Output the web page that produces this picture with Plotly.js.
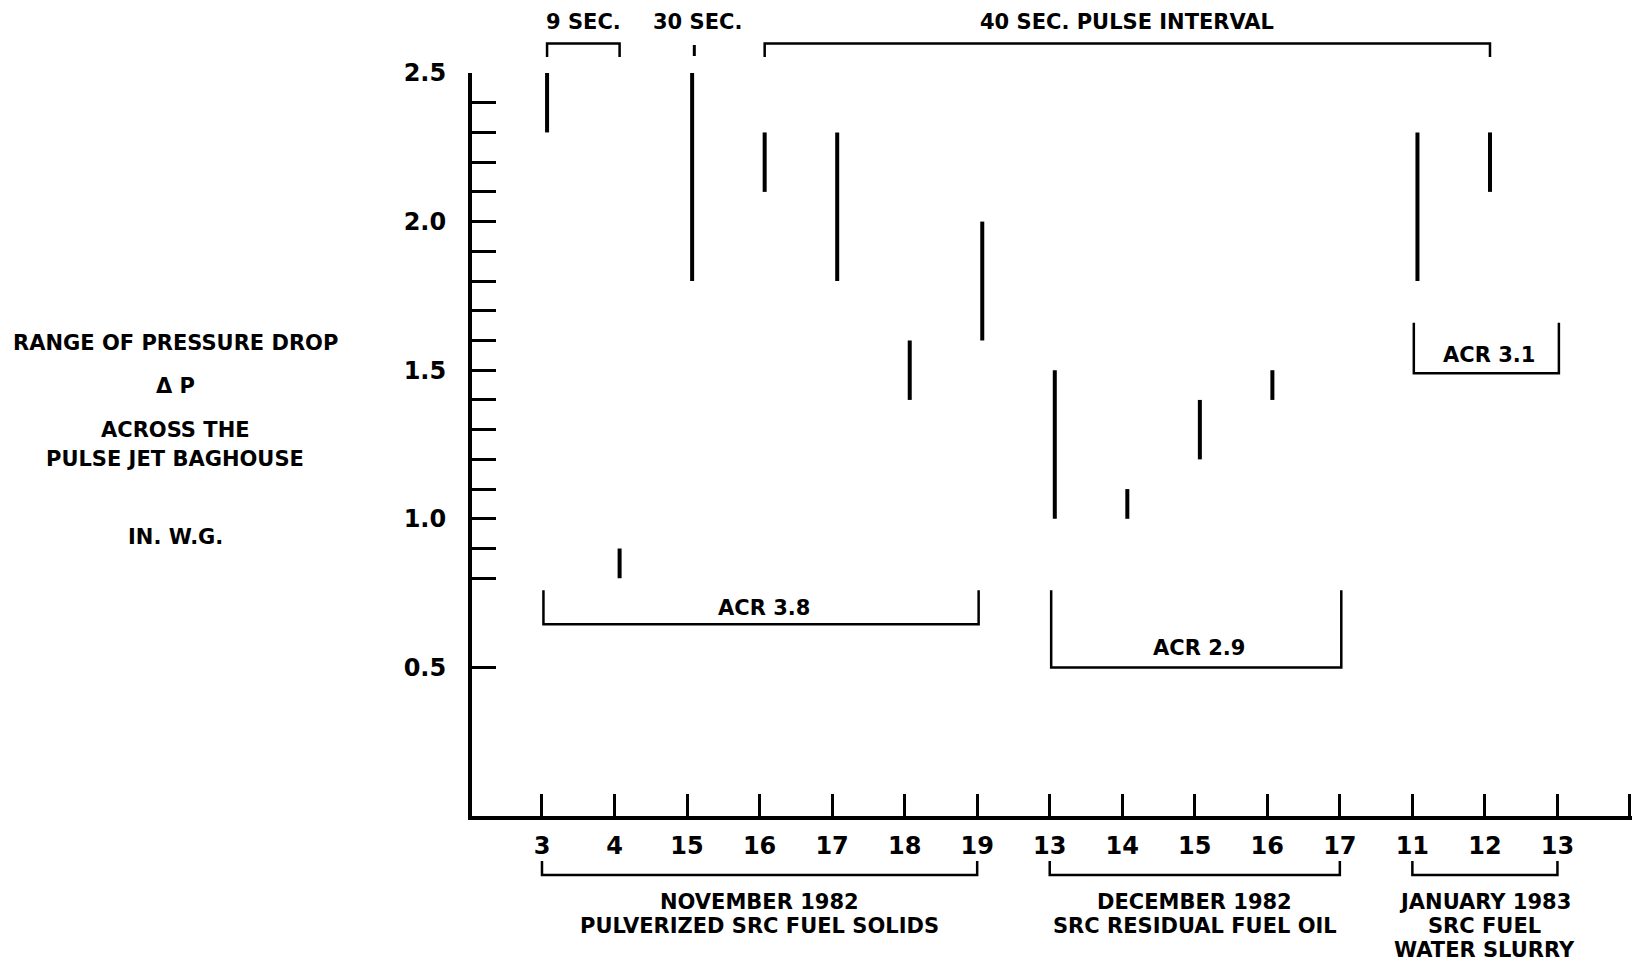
<!DOCTYPE html>
<html>
<head>
<meta charset="utf-8">
<script src="https://cdn.plot.ly/plotly-3.0.1.min.js"></script>
<style>
html, body { margin: 0; padding: 0; background: #ffffff; }
#chart { width: 1633px; height: 964px; }
</style>
</head>
<body>
<div id="chart"></div>
<script>
// ---------------- DATA ----------------
// Test days along the x axis (category positions 1..15)
const dayLabels = ['3', '4', '15', '16', '17', '18', '19', '13', '14', '15', '16', '17', '11', '12', '13'];
// Range of pressure drop (in. W.G.) observed on each day: low / high ends of each bar
const dpLow  = [2.3, 0.8, 1.8, 2.1, 1.8, 1.4, 1.6, 1.0, 1.0, 1.2, 1.4, null, 1.8, 2.1, null];
const dpHigh = [2.5, 0.9, 2.5, 2.3, 2.3, 1.6, 2.0, 1.5, 1.1, 1.4, 1.5, null, 2.3, 2.3, null];

// Y axis ticks
const yTickVals = [0.5, 0.8, 0.9, 1.0, 1.1, 1.2, 1.3, 1.4, 1.5, 1.6, 1.7, 1.8, 1.9, 2.0, 2.1, 2.2, 2.3, 2.4, 2.5];
const yTickLabels = ['0.5', '', '', '1.0', '', '', '', '', '1.5', '', '', '', '', '2.0', '', '', '', '', '2.5'];

// Pulse interval groups (top brackets), by day position
const pulseLabels = ['9 SEC.', '30 SEC.', '40 SEC. PULSE INTERVAL'];
const pulseStart  = [1, 3, 4];
const pulseEnd    = [2, 3, 14];

// Air-to-cloth ratio groups (brackets inside the plot)
const acrLabels = ['ACR 3.8', 'ACR 2.9', 'ACR 3.1'];
const acrStart  = [1, 8, 13];
const acrEnd    = [7, 12, 15];

// Test periods (brackets under the day labels)
const periodLines = [
  ['NOVEMBER 1982', 'PULVERIZED SRC FUEL SOLIDS'],
  ['DECEMBER 1982', 'SRC RESIDUAL FUEL OIL'],
  ['JANUARY 1983', 'SRC FUEL', 'WATER SLURRY']
];
const periodStart = [1, 8, 13];
const periodEnd   = [7, 12, 15];

// Y axis title lines
const yTitleLines = ['RANGE OF PRESSURE DROP', '\u0394 P', 'ACROSS THE', 'PULSE JET BAGHOUSE', 'IN. W.G.'];

// ---------------- LAYOUT / STYLE ----------------
const W = 1633, H = 964;
const M = { l: 472, r: 1, t: 73, b: 148 };
const plotBottom = H - M.b;
const plotH = H - M.t - M.b;
const plotW = W - M.l - M.r;
const py = px => (plotBottom - px) / plotH;       // pixel row -> paper y
const pxX = px => (px - M.l) / plotW;             // pixel column -> paper x
const SHIFT = 0.07;                               // bars sit slightly right of the ticks in the original
const FONT = 'DejaVu Sans, Liberation Sans, Arial, sans-serif';
const INK = '#000000';
const TXT = { family: FONT, size: 21, color: INK, weight: 'bold' };
const TICKFONT = { family: FONT, size: 24, color: INK, weight: 'bold' };

// ACR bracket geometry (y in data units)
const acrTop    = [0.76, 0.76, 1.66];
const acrBottom = [0.645, 0.50, 1.49];
const acrTextY  = [0.70, 0.565, 1.55];

// bars trace
const bx = [], by = [];
dayLabels.forEach((d, i) => {
  if (dpLow[i] == null) return;
  bx.push(i + 1 + SHIFT, i + 1 + SHIFT, null);
  by.push(dpLow[i], dpHigh[i], null);
});

const traces = [{
  type: 'scatter', mode: 'lines', x: bx, y: by,
  line: { color: INK, width: 4 }, hoverinfo: 'skip', showlegend: false
}];

const shapes = [];
const annotations = [];

// top pulse brackets
pulseLabels.forEach((t, i) => {
  const x1 = pulseStart[i] + SHIFT, x2 = pulseEnd[i] + SHIFT;
  if (x1 === x2) {
    shapes.push({ type: 'line', xref: 'x', yref: 'paper', x0: x1 + 0.03, x1: x1 + 0.03, y0: py(45), y1: py(56),
                  line: { color: INK, width: 3 } });
  } else {
    shapes.push({ type: 'path', xref: 'x', yref: 'paper',
      path: `M ${x1},${py(57)} L ${x1},${py(43.5)} L ${x2},${py(43.5)} L ${x2},${py(57)}`,
      line: { color: INK, width: 2.5 } });
  }
  annotations.push({ text: t, xref: 'x', yref: 'paper', x: (x1 + x2) / 2 + (x1 === x2 ? 0.07 : 0), y: py(22),
    xanchor: 'center', yanchor: 'middle', showarrow: false, font: TXT });
});

// ACR brackets
acrLabels.forEach((t, i) => {
  const x1 = acrStart[i] + 0.02, x2 = acrEnd[i] + 0.02;
  shapes.push({ type: 'path', xref: 'x', yref: 'y',
    path: `M ${x1},${acrTop[i]} L ${x1},${acrBottom[i]} L ${x2},${acrBottom[i]} L ${x2},${acrTop[i]}`,
    line: { color: INK, width: 2.5 } });
  annotations.push({ text: t, xref: 'x', yref: 'y', x: (x1 + x2) / 2 + 0.04, y: acrTextY[i],
    xanchor: 'center', yanchor: 'middle', showarrow: false, font: TXT });
});

// period brackets below the axis
const periodLineY = [902, 926, 950];
periodLines.forEach((lines, i) => {
  const x1 = periodStart[i], x2 = periodEnd[i];
  shapes.push({ type: 'path', xref: 'x', yref: 'paper',
    path: `M ${x1},${py(861)} L ${x1},${py(875)} L ${x2},${py(875)} L ${x2},${py(861)}`,
    line: { color: INK, width: 2.5 } });
  lines.forEach((t, k) => {
    annotations.push({ text: t, xref: 'x', yref: 'paper', x: (x1 + x2) / 2, y: py(periodLineY[k]),
      xanchor: 'center', yanchor: 'middle', showarrow: false, font: TXT });
  });
});

// y axis title (stacked lines)
const yTitleRows = [343, 386, 430, 459, 537];
yTitleLines.forEach((t, k) => {
  annotations.push({ text: t, xref: 'paper', yref: 'paper', x: pxX(175), y: py(yTitleRows[k]),
    xanchor: 'center', yanchor: 'middle', showarrow: false, font: TXT });
});

const xTickVals = dayLabels.map((d, i) => i + 1).concat([16]);
const xTickText = dayLabels.concat(['']);

const layout = {
  width: W, height: H,
  margin: M,
  paper_bgcolor: '#ffffff', plot_bgcolor: '#ffffff',
  font: TXT,
  showlegend: false,
  xaxis: {
    range: [0.035, 16.028], showgrid: false, zeroline: false,
    showline: true, linecolor: INK, linewidth: 4,
    ticks: 'inside', ticklen: 22, tickwidth: 3, tickcolor: INK,
    tickmode: 'array', tickvals: xTickVals, ticktext: xTickText,
    tickfont: TICKFONT,
    ticklabelstandoff: 5, fixedrange: true
  },
  yaxis: {
    range: [0, 2.5], showgrid: false, zeroline: false,
    showline: true, linecolor: INK, linewidth: 4,
    ticks: 'inside', ticklen: 24, tickwidth: 3, tickcolor: INK,
    tickmode: 'array', tickvals: yTickVals, ticktext: yTickLabels,
    tickfont: TICKFONT,
    ticklabelstandoff: 17, fixedrange: true
  },
  shapes: shapes,
  annotations: annotations
};

Plotly.newPlot('chart', traces, layout, { displayModeBar: false, staticPlot: true });
</script>
</body>
</html>
